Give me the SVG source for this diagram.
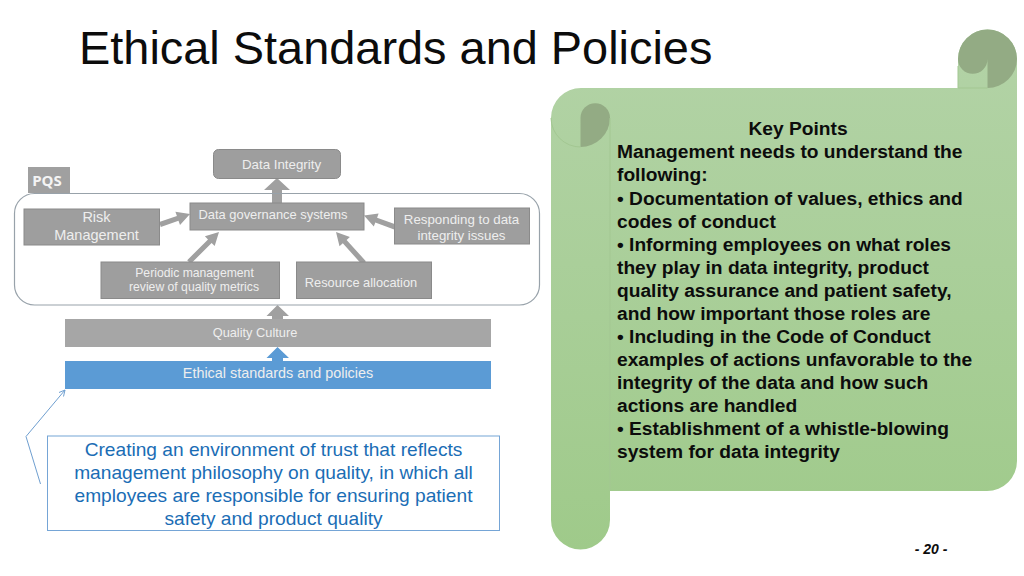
<svg xmlns="http://www.w3.org/2000/svg" width="1024" height="576" viewBox="0 0 1024 576">
<style>
text{font-family:"Liberation Sans",Arial,sans-serif}
.box{fill:#9e9e9e;stroke:#8a8a8a;stroke-width:1}
.w{fill:#eeeeee;text-anchor:middle}
.k{font-size:19.2px;font-weight:bold;fill:#0c0c0c}
.c{font-size:19.15px;fill:#1a6db5;text-anchor:middle}
.ar{fill:#a0a0a0}
</style>
<defs>
<linearGradient id="g" x1="0" y1="0" x2="0" y2="1"><stop offset="0" stop-color="#b3d3a7"/><stop offset="1" stop-color="#9fca8a"/></linearGradient>
</defs>
<text x="79" y="64" font-size="46.900" fill="#0c0c0c">Ethical Standards and Policies</text>
<g id="scroll">
<path fill="url(#g)" d="M551 118A30 30 0 0 1 581 88H958V59A29.500 29.500 0 0 1 1017 59V461A30 30 0 0 1 987 491H610V520A29.500 29.500 0 0 1 551 520Z"/>
<path fill="#93ab84" d="M958 59A29.500 29.500 0 0 1 1017 59A29.500 29.500 0 0 1 987.500 88V59A14.750 14.750 0 0 1 958 59Z"/>
<path fill="#93ab84" d="M580.500 147V118A14.750 14.750 0 0 1 610 118A29.500 29.500 0 0 1 580.500 147Z"/>
<path fill="none" stroke="#a3c792" stroke-width="1" d="M551 118A29.500 29.500 0 0 0 580.500 147M610 118V491M958 66V88H987.500"/>
<text class="k" x="798" y="135.300" text-anchor="middle">Key Points</text>
<text class="k" x="617" y="158.400">Management needs to understand the</text>
<text class="k" x="617" y="181.400">following:</text>
<text class="k" x="617" y="204.500">• Documentation of values, ethics and</text>
<text class="k" x="617" y="227.600">codes of conduct</text>
<text class="k" x="617" y="250.700">• Informing employees on what roles</text>
<text class="k" x="617" y="273.700">they play in data integrity, product</text>
<text class="k" x="617" y="296.800">quality assurance and patient safety,</text>
<text class="k" x="617" y="319.900">and how important those roles are</text>
<text class="k" x="617" y="343">• Including in the Code of Conduct</text>
<text class="k" x="617" y="366">examples of actions unfavorable to the</text>
<text class="k" x="617" y="389.100">integrity of the data and how such</text>
<text class="k" x="617" y="412.200">actions are handled</text>
<text class="k" x="617" y="435.300">• Establishment of a whistle-blowing</text>
<text class="k" x="617" y="458.300">system for data integrity</text>
</g>
<g id="connectors">
<polygon class="ar" points="277,178 290,190 282,190 282,204 272,204 272,190 264,190"/>
<polygon class="ar" points="159.200,222.100 176.900,215.900 175.400,211.700 190,214 180,224.900 178.500,220.700 160.800,226.900"/>
<polygon class="ar" points="187.200,260.200 208,239.400 204.900,236.300 219,232 214.700,246.100 211.600,243 190.800,263.800"/>
<polygon class="ar" points="365.900,261.300 346.600,239.900 349.900,236.900 336,232 339.500,246.300 342.800,243.300 362.100,264.700"/>
<polygon class="ar" points="395.900,224.600 377.100,217.700 378.600,213.400 364,215.500 373.800,226.600 375.300,222.400 394.100,229.400"/>
<polygon class="ar" points="277.500,305 289,316 283,316 283,320 272,320 272,316 266.500,316"/>
<polygon fill="#5b9bd5" points="277.500,347 289,358 283,358 283,362 272,362 272,358 266.500,358"/>
</g>
<g id="pqs-frame"><rect x="14.500" y="193.500" width="525" height="111.500" rx="20" fill="none" stroke="#98a2aa" stroke-width="1.200"/></g>
<g id="pqs"><rect x="28" y="167" width="42" height="26" fill="#a0a0a0"/><text x="47" y="186" font-size="15" font-weight="bold" fill="#f4f4f4" text-anchor="middle" style="font-family:'Open Sans',sans-serif">PQS</text></g>
<g id="data-integrity"><rect class="box" x="213.500" y="149.500" width="127" height="29" rx="5"/><text class="w" x="281.500" y="169" font-size="13.300">Data Integrity</text></g>
<g id="data-governance"><rect class="box" x="190" y="203" width="174" height="27"/><text class="w" x="273" y="219" font-size="12.900">Data governance systems</text></g>
<g id="risk"><rect class="box" x="24" y="209" width="135.500" height="36"/><text class="w" x="96.500" y="222" font-size="14.500">Risk</text><text class="w" x="96.500" y="240" font-size="14.500">Management</text></g>
<g id="responding"><rect class="box" x="394.500" y="208" width="135" height="36"/><text class="w" x="461.500" y="224" font-size="13.300">Responding to data</text><text class="w" x="461.500" y="240" font-size="13.300">integrity issues</text></g>
<g id="periodic"><rect class="box" x="101" y="262" width="178.500" height="36.500"/><text class="w" x="194.500" y="277" font-size="12.200">Periodic management</text><text class="w" x="194" y="291" font-size="12.200">review of quality metrics</text></g>
<g id="resource"><rect class="box" x="296.500" y="262" width="135" height="36.500"/><text class="w" x="361" y="287" font-size="12.800">Resource allocation</text></g>
<g id="quality-culture"><rect x="65" y="319" width="426" height="28" fill="#a6a6a6"/><text class="w" x="255" y="337" font-size="12.800">Quality Culture</text></g>
<g id="ethical"><rect x="65" y="361" width="426" height="28" fill="#5b9bd5"/><text class="w" x="278" y="378" font-size="14.400">Ethical standards and policies</text></g>
<g id="callout">
<rect x="47.500" y="436" width="452" height="94.500" fill="#fff" stroke="#75a5d6" stroke-width="1"/>
<path d="M40.500 484L26 436.500L65 390M59 392.500L65 390L63.500 396.500" fill="none" stroke="#6f9fd0" stroke-width="1"/>
<text class="c" x="273.500" y="456">Creating an environment of trust that reflects</text>
<text class="c" x="273.500" y="479">management philosophy on quality, in which all</text>
<text class="c" x="273.500" y="502">employees are responsible for ensuring patient</text>
<text class="c" x="273.500" y="525">safety and product quality</text>
</g>
<text x="931" y="554" font-size="14" font-weight="bold" font-style="italic" fill="#0c0c0c" text-anchor="middle">- 20 -</text>
</svg>
